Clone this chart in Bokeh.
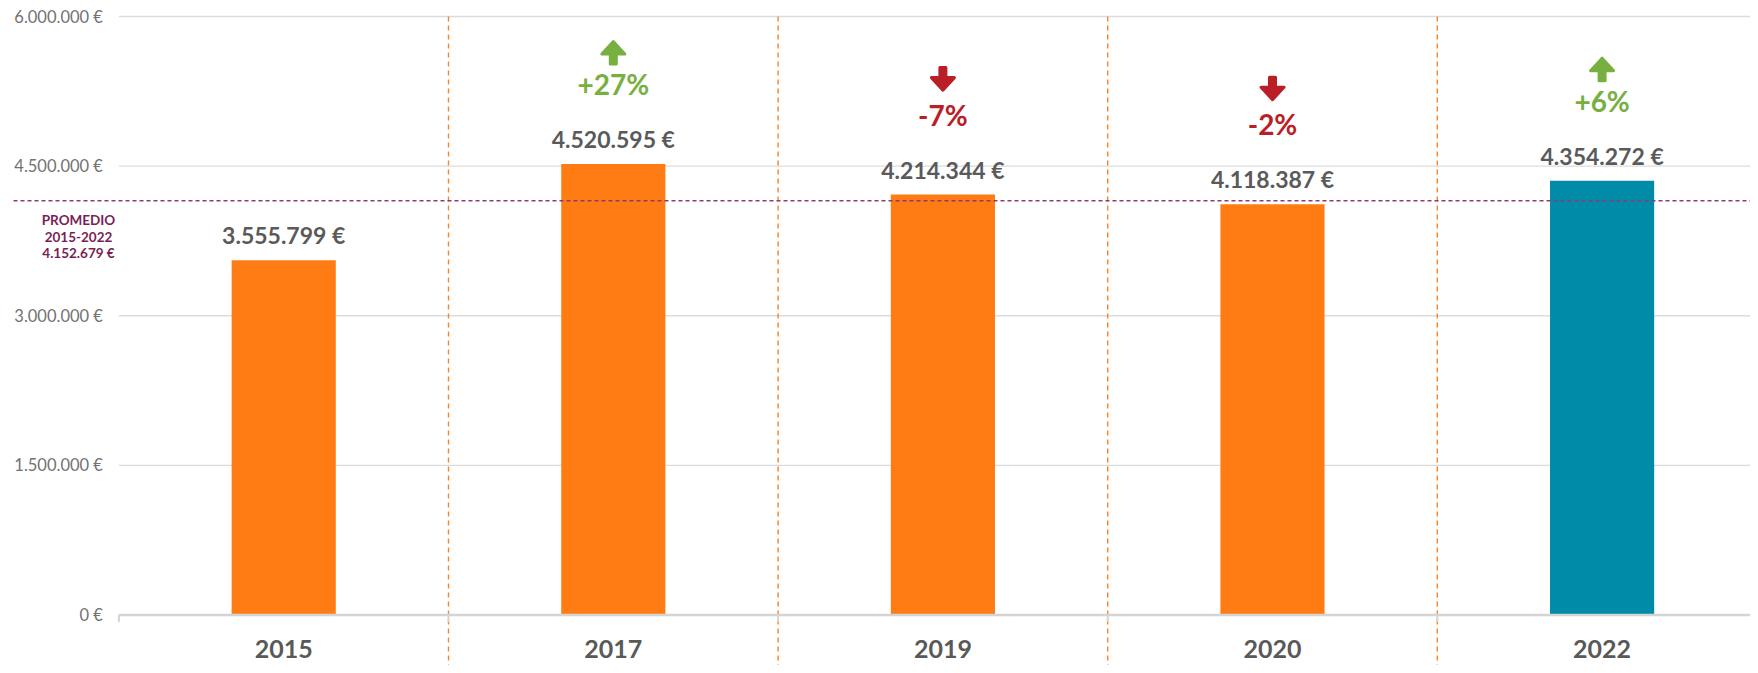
from bokeh.plotting import figure
from bokeh.models import Range1d
from bokeh.core.properties import value
from bokeh.embed import file_html
from bokeh.resources import INLINE

# ---------------- data ----------------
years = ["2015", "2017", "2019", "2020", "2022"]
amounts = [3555799, 4520595, 4214344, 4118387, 4354272]
bar_colors = ["#FF7C15", "#FF7C15", "#FF7C15", "#FF7C15", "#008CA8"]
y_ticks = [0, 1500000, 3000000, 4500000, 6000000]
y_tick_labels = ["0 €", "1.500.000 €", "3.000.000 €", "4.500.000 €", "6.000.000 €"]
avg_title = ["PROMEDIO", "2015-2022"]


def eur(v):
    return f"{v:,.0f}".replace(",", ".") + " €"


idx = list(range(len(years)))
average = sum(amounts) / len(amounts)
changes = [None] + [round((amounts[i] / amounts[i - 1] - 1) * 100) for i in range(1, len(amounts))]

# ---------------- layout (page pixels) ----------------
W, H = 1750, 665
ORG = 0
CW = 329.6          # px per category
CX0 = 283.2         # page x of first category centre
Y0 = 614.5          # page y of value 0
YT = 16.0           # page y of top tick
PX = y_ticks[-1] / (Y0 - YT)   # value units per pixel
XPX = 1.0 / CW                  # x units per pixel

x_start = (ORG - CX0) / CW
x_end = (ORG + W - CX0) / CW
p = figure(width=W, height=H, output_backend="svg", toolbar_location=None,
           x_range=Range1d(x_start, x_end),
           y_range=Range1d((Y0 - (ORG + H)) * PX, (Y0 - ORG) * PX),
           min_border=0, outline_line_color=None, background_fill_color="white",
           border_fill_color="white")
p.axis.visible = False
p.grid.visible = False

FONT = value("Lato")
left_edge = -0.5
n = len(years)

# grid lines
grid_y = y_ticks[1:]
p.segment(x0=[left_edge] * len(grid_y), y0=grid_y, x1=[x_end] * len(grid_y), y1=grid_y,
          line_color="#DCDCDC", line_width=1.3)

# category separators (dashed orange)
sep_x = [i + 0.5 for i in range(n - 1)]
p.segment(x0=sep_x, y0=[y_ticks[-1]] * len(sep_x), x1=sep_x, y1=[-50 * PX] * len(sep_x),
          line_color="#F7842A", line_width=1.4, line_dash="5 4")

# bars
p.vbar(x=idx, top=amounts, width=0.316, fill_color=bar_colors, line_color=None)

# x axis baseline and ticks
p.segment(x0=[left_edge], y0=[0], x1=[x_end], y1=[0], line_color="#D4D4D4", line_width=2.5)
tick_x = [left_edge + i for i in range(n + 1)]
p.segment(x0=tick_x, y0=[0] * len(tick_x), x1=tick_x, y1=[-7 * PX] * len(tick_x),
          line_color="#D4D4D4", line_width=2)

# average line
p.segment(x0=[(13 - CX0) / CW], y0=[average], x1=[x_end], y1=[average],
          line_color="#8E3A6E", line_width=1.3, line_dash="4 3")

# y tick labels
p.text(x=[left_edge - 16 * XPX] * len(y_ticks), y=y_ticks, text=y_tick_labels,
       text_font=FONT, text_font_size="16.5px", text_color="#727272",
       text_align="right", text_baseline="middle")

# x labels
p.text(x=idx, y=[-33.5 * PX] * n, text=years, text_font=FONT, text_font_style="bold",
       text_font_size="25px", text_color="#595959", text_align="center", text_baseline="middle")

# value labels
p.text(x=idx, y=[a + 25 * PX for a in amounts], text=[eur(a) for a in amounts],
       text_font=FONT, text_font_style="bold", text_font_size="23px", text_color="#5A5A5A",
       text_align="center", text_baseline="middle")

# change labels and arrows
ci = [i for i in idx if changes[i] is not None]
ctext = [("+" if changes[i] > 0 else "") + f"{changes[i]}%" for i in ci]
ccol = ["#77B041" if changes[i] > 0 else "#BA1E26" for i in ci]
pct_y = [amounts[i] + 80 * PX for i in ci]
p.text(x=ci, y=pct_y, text=ctext, text_color=ccol,
       text_font=FONT, text_font_style="bold", text_font_size="28px",
       text_align="center", text_baseline="middle")

# arrow shapes (pixel offsets relative to the change label centre, y up)
UP = [(0, 42.5), (11.5, 30), (3, 30), (3, 20), (-3, 20), (-3, 30), (-11.5, 30)]
DOWN = [(0, 24.5), (11.5, 37), (3, 37), (3, 47), (-3, 47), (-3, 37), (-11.5, 37)]
axs, ays = [], []
for i, yc in zip(ci, pct_y):
    shape = UP if changes[i] > 0 else DOWN
    axs.append([i + dx * XPX for dx, dy in shape])
    ays.append([yc + dy * PX for dx, dy in shape])
p.patches(xs=axs, ys=ays, fill_color=ccol, line_color=ccol, line_width=3, line_join="round")

# average annotation
avg_lines = avg_title + [eur(average)]
avg_x = (78 - CX0) / CW
p.text(x=[avg_x] * 3, y=[average - d * PX for d in (19, 36, 52)], text=avg_lines,
       text_font=FONT, text_font_style="bold", text_font_size="13.5px", text_color="#7A1F56",
       text_align="center", text_baseline="middle")

open("out.html", "w").write(file_html(p, INLINE))
